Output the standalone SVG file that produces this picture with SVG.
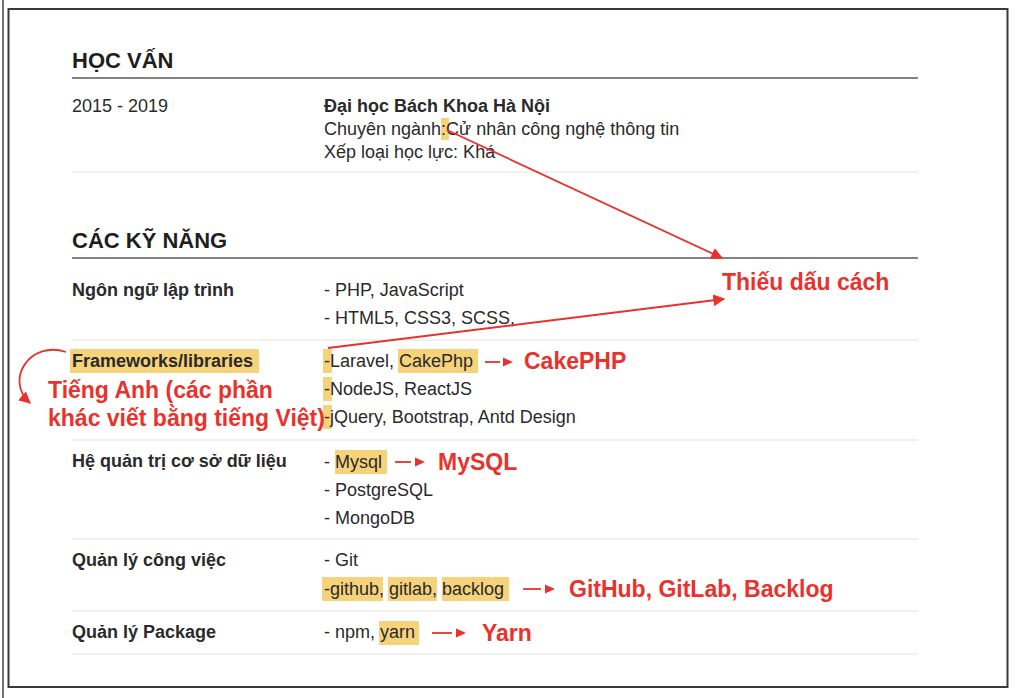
<svg xmlns="http://www.w3.org/2000/svg" width="1024" height="698" viewBox="0 0 1024 698">
<defs>
<style>
.t{font-family:"Liberation Sans",Arial,sans-serif;font-size:18px;fill:#2a2a2a}
.b{font-weight:bold}
.h{font-family:"Liberation Sans",Arial,sans-serif;font-size:22px;font-weight:bold;fill:#1e1e1e}
.r{font-family:"Liberation Sans",Arial,sans-serif;font-size:23px;font-weight:bold;fill:#e8322b}
.hl{fill:#f6d37a}
.sec{stroke:#5a5a5a;stroke-width:1.6}
.sep{stroke:#ececec;stroke-width:1.5}
.ar{stroke:#e8322b;stroke-width:1.8;fill:none}
.tri{fill:#e8322b}
</style>
<marker id="ahs" viewBox="0 0 10 10" refX="9" refY="5" markerWidth="12" markerHeight="12" markerUnits="userSpaceOnUse" orient="auto">
<path d="M0,0 L10,5 L0,10 z" fill="#e8322b"/>
</marker>
</defs>
<rect width="1024" height="698" fill="#fff"/>
<line x1="3" y1="0" x2="3" y2="698" stroke="#444" stroke-width="1.5"/>
<rect x="8.5" y="9" width="999" height="678" fill="none" stroke="#3a3a3a" stroke-width="2"/>

<g id="hoc-van">
<text class="h" x="72" y="68">HỌC VẤN</text>
<line class="sec" x1="72" y1="78" x2="918" y2="78"/>
<text class="t" x="72" y="112">2015 - 2019</text>
<text class="t b" x="324" y="112">Đại học Bách Khoa Hà Nội</text>
<rect class="hl" x="441" y="118" width="8" height="22"/>
<text class="t" x="324" y="135">Chuyên ngành:Cử nhân công nghệ thông tin</text>
<text class="t" x="324" y="158">Xếp loại học lực: Khá</text>
<line class="sep" x1="72" y1="172" x2="918" y2="172"/>
</g>

<g id="ky-nang">
<text class="h" x="72" y="248">CÁC KỸ NĂNG</text>
<line class="sec" x1="72" y1="258" x2="918" y2="258"/>
</g>

<g id="ngon-ngu">
<text class="t b" x="72" y="296">Ngôn ngữ lập trình</text>
<text class="t" x="324" y="296">- PHP, JavaScript</text>
<text class="t" x="324" y="324">- HTML5, CSS3, SCSS,</text>
<line class="sep" x1="72" y1="340" x2="918" y2="340"/>
</g>

<g id="frameworks">
<rect class="hl" x="70" y="349" width="189" height="24"/>
<text class="t b" x="72" y="367">Frameworks/libraries</text>
<rect class="hl" x="323" y="349" width="9" height="24"/>
<rect class="hl" x="398" y="349" width="80" height="24"/>
<text class="t" x="324" y="367">-Laravel, CakePhp</text>
<rect class="hl" x="323" y="377" width="9" height="24"/>
<text class="t" x="324" y="395">-NodeJS, ReactJS</text>
<rect class="hl" x="323" y="405" width="9" height="24"/>
<text class="t" x="324" y="423">-jQuery, Bootstrap, Antd Design</text>
<line class="sep" x1="72" y1="440" x2="918" y2="440"/>
</g>

<g id="csdl">
<text class="t b" x="72" y="467">Hệ quản trị cơ sở dữ liệu</text>
<rect class="hl" x="335" y="450" width="52" height="24"/>
<text class="t" x="324" y="468">- Mysql</text>
<text class="t" x="324" y="496">- PostgreSQL</text>
<text class="t" x="324" y="524">- MongoDB</text>
<line class="sep" x1="72" y1="539" x2="918" y2="539"/>
</g>

<g id="cong-viec">
<text class="t b" x="72" y="566">Quản lý công việc</text>
<text class="t" x="324" y="566">- Git</text>
<rect class="hl" x="322" y="577" width="61" height="24"/>
<rect class="hl" x="388" y="577" width="49" height="24"/>
<rect class="hl" x="442" y="577" width="67" height="24"/>
<text class="t" x="324" y="595">-github, gitlab, backlog</text>
<line class="sep" x1="72" y1="611" x2="918" y2="611"/>
</g>

<g id="package">
<text class="t b" x="72" y="638">Quản lý Package</text>
<rect class="hl" x="379" y="621" width="40" height="24"/>
<text class="t" x="324" y="638">- npm, yarn</text>
<line class="sep" x1="72" y1="654" x2="918" y2="654"/>
</g>

<g id="notes">
<text class="r" x="722" y="290">Thiếu dấu cách</text>
<text class="r" x="48" y="398">Tiếng Anh (các phần</text>
<text class="r" x="48" y="426">khác viết bằng tiếng Việt)</text>
<text class="r" x="524" y="369">CakePHP</text>
<text class="r" x="438" y="470">MySQL</text>
<text class="r" x="569" y="597">GitHub, GitLab, Backlog</text>
<text class="r" x="482" y="641">Yarn</text>
</g>

<g id="connectors">
<line class="ar" x1="447" y1="130" x2="722" y2="258" marker-end="url(#ahs)"/>
<line class="ar" x1="328" y1="348" x2="724" y2="299" marker-end="url(#ahs)"/>
<path class="ar" d="M66,352 C30,340 4,380 30,403" marker-end="url(#ahs)"/>
<line class="ar" x1="485" y1="362" x2="500" y2="362"/><path class="tri" d="M503,357.5 L513,362 L503,366.5 z"/>
<line class="ar" x1="395" y1="462" x2="411" y2="462"/><path class="tri" d="M415,457.5 L425,462 L415,466.5 z"/>
<line class="ar" x1="523" y1="589" x2="541" y2="589"/><path class="tri" d="M545,584.5 L555,589 L545,593.5 z"/>
<line class="ar" x1="432" y1="633" x2="452" y2="633"/><path class="tri" d="M456,628.5 L466,633 L456,637.5 z"/>
</g>
</svg>
